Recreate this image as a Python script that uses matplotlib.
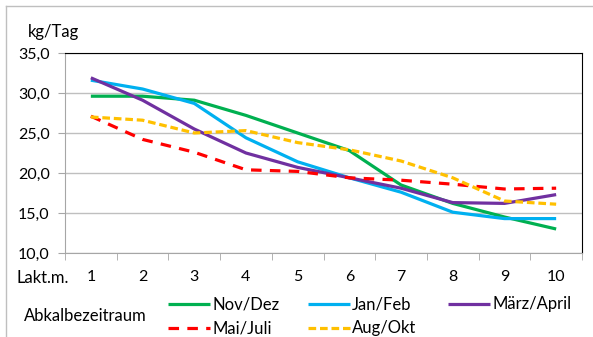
import matplotlib.pyplot as plt
from matplotlib.lines import Line2D
import numpy as np

plt.rcParams["font.family"] = ["Lato", "DejaVu Sans"]

months = ['1', '2', '3', '4', '5', '6', '7', '8', '9', '10']
nov_dez = [29.6, 29.6, 29.1, 27.2, 25.0, 22.8, 18.5, 16.2, 14.5, 13.0]
jan_feb = [31.6, 30.5, 28.7, 24.4, 21.4, 19.4, 17.6, 15.1, 14.3, 14.3]
maerz_april = [31.9, 29.1, 25.5, 22.5, 20.7, 19.4, 18.1, 16.3, 16.2, 17.3]
mai_juli = [27.1, 24.2, 22.6, 20.4, 20.2, 19.4, 19.1, 18.6, 18.0, 18.1]
aug_okt = [27.0, 26.6, 25.0, 25.3, 23.8, 22.9, 21.5, 19.4, 16.5, 16.1]
yticks = [10, 15, 20, 25, 30, 35]

fs_tick = 11.5
fs_text = 12

fig = plt.figure(figsize=(5.93, 3.37), dpi=100)
ax = fig.add_axes([65/593, 1-253/337, 517/593, 200/337])

x = np.arange(len(months))
lw = 2.3
series = [
    (nov_dez, '#00B050', 'Nov/Dez', None),
    (jan_feb, '#00B0F0', 'Jan/Feb', None),
    (maerz_april, '#7030A0', 'März/April', None),
    (mai_juli, '#FF0000', 'Mai/Juli', (0, (3.3, 2.6))),
    (aug_okt, '#FFC000', 'Aug/Okt', (0, (2.4, 1.2))),
]
for vals, col, lab, ls in series:
    ax.plot(x, vals, color=col, lw=lw, linestyle=ls if ls else '-', label=lab,
            solid_capstyle='butt', dash_capstyle='butt')

ax.set_xlim(-0.5, len(months) - 0.5)
ax.set_ylim(10, 35)
ax.set_yticks(yticks)
ax.set_yticklabels([f"{v:.1f}".replace('.', ',') for v in yticks], fontsize=fs_tick)
ax.set_xticks(x)
ax.set_xticklabels(months, fontsize=fs_tick)
ax.set_xticks(np.arange(-0.5, len(months)), minor=True)
ax.tick_params(axis='x', which='major', length=0, pad=12)
ax.tick_params(axis='x', which='minor', length=5, color='#A6A6A6', direction='out')
ax.tick_params(axis='y', length=5, color='#A6A6A6', direction='out', pad=6)
ax.grid(axis='y', color='#BFBFBF', lw=1.0)
ax.set_axisbelow(True)
for s in ['left', 'bottom']:
    ax.spines[s].set_color('#A6A6A6')
for s in ['top', 'right']:
    ax.spines[s].set_color('black')

fig.text(28/593, 1-32/337, 'kg/Tag', fontsize=fs_text, va='center', ha='left')
fig.text(16/593, 1-278/337, 'Lakt.m.', fontsize=fs_text, va='center', ha='left')
fig.text(24/593, 1-316/337, 'Abkalbezeitraum', fontsize=fs_text, va='center', ha='left')

# legend, placed by hand
legend_pos = [(168, 304), (308, 304), (448, 304), (168, 328), (308, 328)]
for (vals, col, lab, ls), (px, py) in zip(series, legend_pos):
    fx0, fx1 = px/593, (px + 42)/593
    fy = 1 - py/337
    fig.add_artist(Line2D([fx0, fx1], [fy, fy], color=col, lw=lw,
                          linestyle=ls if ls else '-', transform=fig.transFigure,
                          solid_capstyle='butt', dash_capstyle='butt'))
    fig.text((px + 44)/593, fy, lab, fontsize=fs_text, va='center', ha='left')

# outer frame: only left and top edges visible
fig.add_artist(Line2D([6/593, 6/593], [0, 1-6/337], color='#BFBFBF', lw=1.0,
                      transform=fig.transFigure))
fig.add_artist(Line2D([6/593, 1], [1-6/337, 1-6/337], color='#BFBFBF', lw=1.0,
                      transform=fig.transFigure))

fig.savefig('out.png', dpi=100)
